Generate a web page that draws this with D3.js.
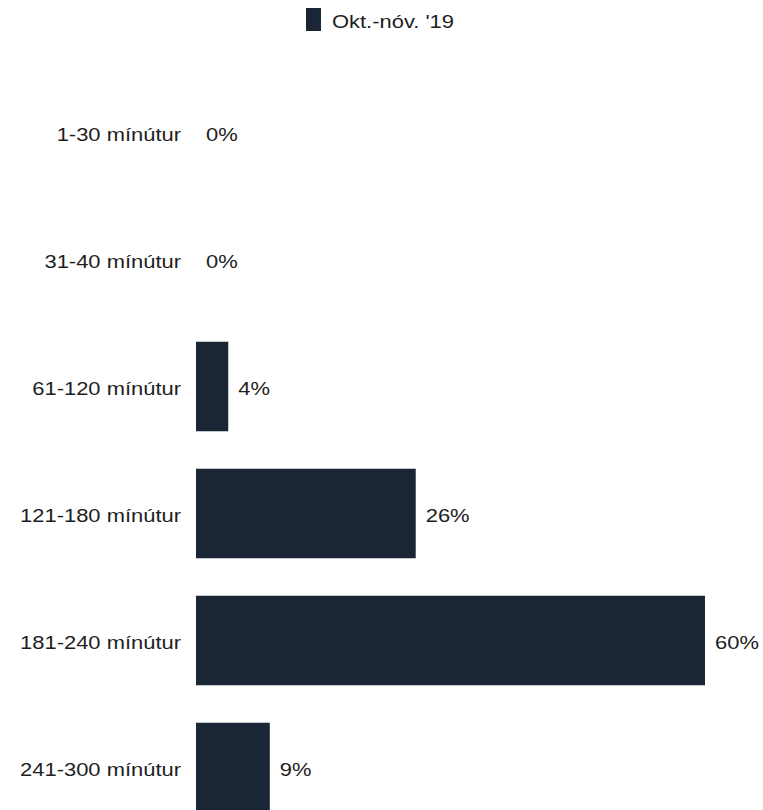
<!DOCTYPE html>
<html>
<head>
<meta charset="utf-8">
<script src="https://cdn.jsdelivr.net/npm/d3@7"></script>
<style>
  html, body { margin: 0; padding: 0; background: #ffffff; }
  svg { display: block; }
</style>
</head>
<body>
<div id="chart"></div>
<script>
const categories = ["1-30 mínútur", "31-40 mínútur", "61-120 mínútur", "121-180 mínútur", "181-240 mínútur", "241-300 mínútur"];
const seriesName = "Okt.-nóv. '19";
const values = [0, 0, 3.8, 25.9, 60, 8.7];

const W = 763, H = 810;
const barColor = "#1a2636";
const textColor = "#1e1e1e";
const fontSize = 18.6;
const sx = 1.18; // horizontal glyph stretch seen in the reference

const svg = d3.select("#chart").append("svg")
  .attr("width", W).attr("height", H)
  .style("font-family", "'Liberation Sans', Arial, sans-serif");

const x = d3.scaleLinear().domain([0, 60]).range([196, 705]);
const y = d3.scaleBand().domain(categories).range([69, 831]).paddingInner(0.295).paddingOuter(0.1475);

function stretchedText(g, px, py, txt, anchor) {
  g.append("g")
    .attr("transform", `translate(${px},${py}) scale(${sx},1)`)
    .append("text")
    .attr("text-anchor", anchor)
    .attr("dy", "0.35em")
    .attr("fill", textColor)
    .attr("font-size", fontSize)
    .text(txt);
}

// bars
svg.append("g").selectAll("rect")
  .data(values)
  .join("rect")
  .attr("x", x(0))
  .attr("y", (d, i) => y(categories[i]))
  .attr("width", d => x(d) - x(0))
  .attr("height", y.bandwidth())
  .attr("fill", barColor);

// category labels (axis without line/ticks)
const yAxis = d3.axisLeft(y).tickSize(0).tickPadding(0);
const axisG = svg.append("g").attr("transform", `translate(${x(0) - 15},0)`).call(yAxis);
axisG.select(".domain").remove();
axisG.selectAll(".tick text").remove();
axisG.selectAll(".tick").each(function(d) {
  stretchedText(d3.select(this), 0, 2, d, "end");
});

// value labels
const fmt = d3.format(".0f");
const valG = svg.append("g");
values.forEach((v, i) => {
  stretchedText(valG, x(v) + 10, y(categories[i]) + y.bandwidth() / 2 + 2, fmt(v) + "%", "start");
});

// legend
const leg = svg.append("g");
leg.append("rect").attr("x", 306).attr("y", 8).attr("width", 15).attr("height", 23).attr("fill", barColor);
stretchedText(leg, 332, 21, seriesName, "start");
</script>
</body>
</html>
